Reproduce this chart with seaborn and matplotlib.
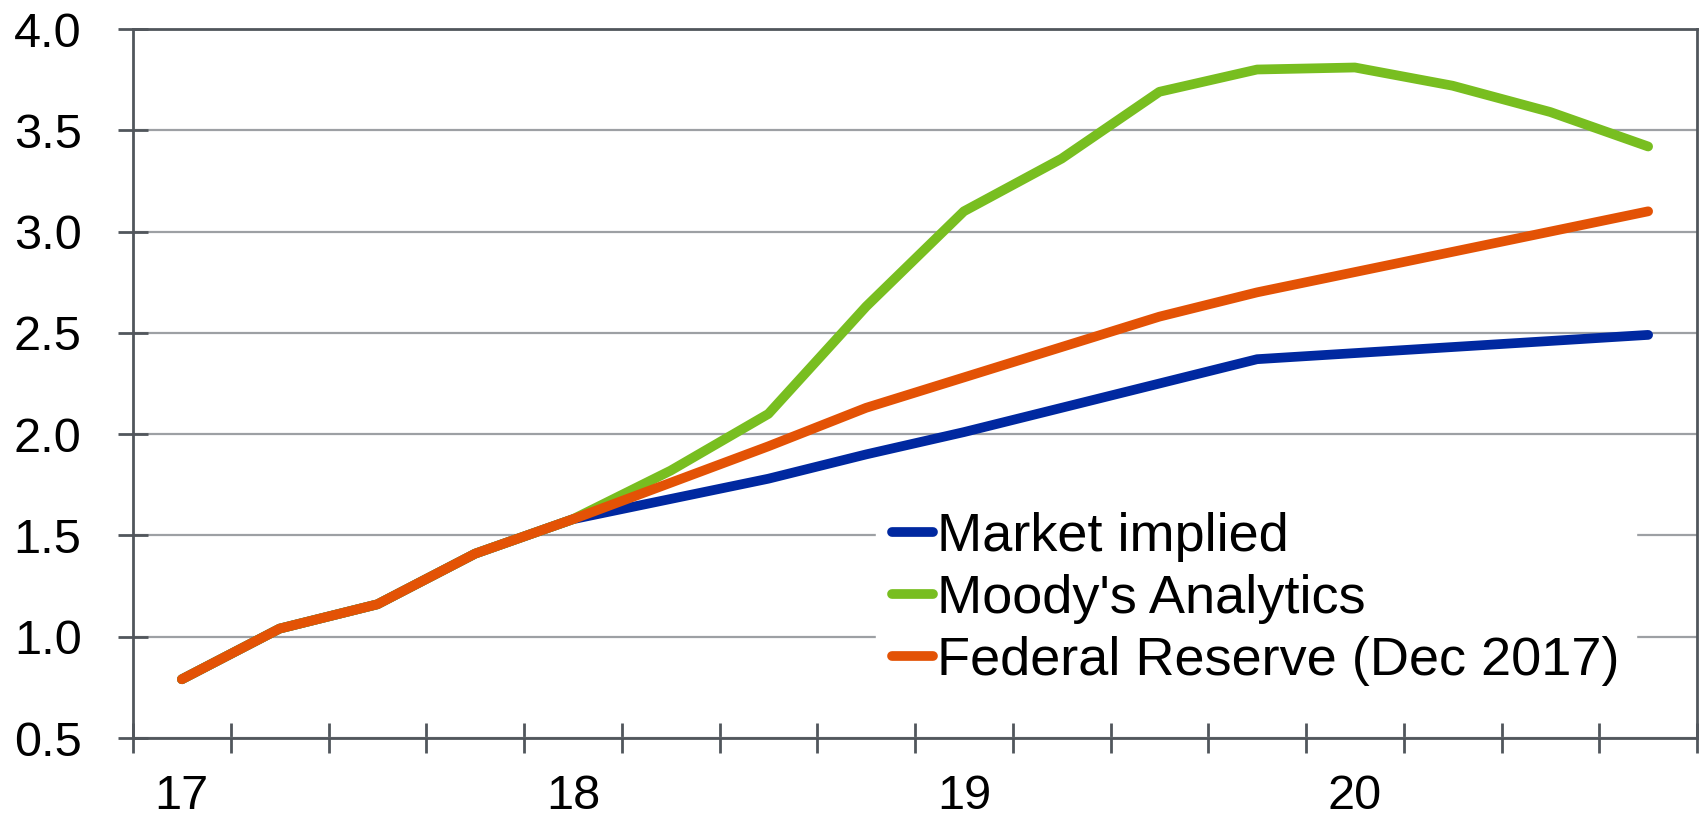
import pandas as pd
import matplotlib.pyplot as plt
import seaborn as sns

# quarterly path, Q1 2017 .. Q4 2020
quarters = list(range(16))
year_labels = ["17", "18", "19", "20"]

market_implied = [0.79, 1.04, 1.16, 1.41, 1.58, 1.68, 1.78, 1.90, 2.01, 2.13,
                  2.25, 2.37, 2.40, 2.43, 2.46, 2.49]
moodys = [0.79, 1.04, 1.16, 1.41, 1.58, 1.82, 2.10, 2.63, 3.10, 3.36,
          3.69, 3.80, 3.81, 3.72, 3.59, 3.42]
fed_dec2017 = [0.79, 1.04, 1.16, 1.41, 1.58, 1.76, 1.94, 2.13, 2.28, 2.43,
               2.58, 2.70, 2.80, 2.90, 3.00, 3.10]

series = ["Market implied", "Moody's Analytics", "Federal Reserve (Dec 2017)"]
colors = ["#0028a0", "#78be20", "#e35205"]

df = pd.DataFrame({
    "q": quarters * 3,
    "rate": market_implied + moodys + fed_dec2017,
    "series": [series[0]] * 16 + [series[1]] * 16 + [series[2]] * 16,
})

sns.set_style("white")
plt.rcParams["font.family"] = ["Liberation Sans", "DejaVu Sans"]
plt.rcParams["text.color"] = "black"

fig = plt.figure(figsize=(17, 8.21), dpi=100)
ax = fig.add_axes([133 / 1700, 1 - 738 / 821, (1697 - 133) / 1700, (738 - 29) / 821])

sns.lineplot(data=df, x="q", y="rate", hue="series", hue_order=series,
             palette=colors, linewidth=7, ax=ax, legend=True)
for line in ax.get_lines():
    line.set_solid_capstyle("round")
    line.set_solid_joinstyle("round")

ax.set_xlim(-0.5, 15.5)
ax.set_ylim(0.5, 4.0)
ax.set_xlabel("")
ax.set_ylabel("")

ax.set_yticks([0.5, 1.0, 1.5, 2.0, 2.5, 3.0, 3.5, 4.0])
ax.set_yticklabels(["0.5", "1.0", "1.5", "2.0", "2.5", "3.0", "3.5", "4.0"])
ax.yaxis.grid(True, color="#9da0a4", linewidth=1.6)
ax.xaxis.grid(False)

ax.set_xticks([0, 4, 8, 12])
ax.set_xticklabels(year_labels)
ax.set_xticks([q - 0.5 for q in quarters] + [15.5], minor=True)

spine_col = "#51565c"
for s in ax.spines.values():
    s.set_visible(True)
    s.set_color(spine_col)
    s.set_linewidth(2)

ax.tick_params(axis="y", which="major", direction="inout", length=22, width=2,
               color=spine_col, labelsize=35, pad=26, left=True, labelcolor="black")
ax.tick_params(axis="x", which="major", length=0, labelsize=35, pad=26,
               labelcolor="black")
ax.tick_params(axis="x", which="minor", direction="inout", length=22, width=2,
               color=spine_col, bottom=True)

handles, labels = ax.get_legend_handles_labels()
leg = ax.legend(handles, labels, loc="lower left",
                bbox_to_anchor=(876 / 1700, 1 - 702 / 821),
                bbox_transform=fig.transFigure,
                fontsize=39, frameon=True, fancybox=False, framealpha=1,
                edgecolor="white", facecolor="white",
                handlelength=0.75, handletextpad=0.08, labelspacing=0.22,
                borderpad=0.3, borderaxespad=0, labelcolor="black")
for h in leg.get_lines():
    h.set_linewidth(7)
    h.set_solid_capstyle("round")

fig.savefig("out.png", dpi=100)
